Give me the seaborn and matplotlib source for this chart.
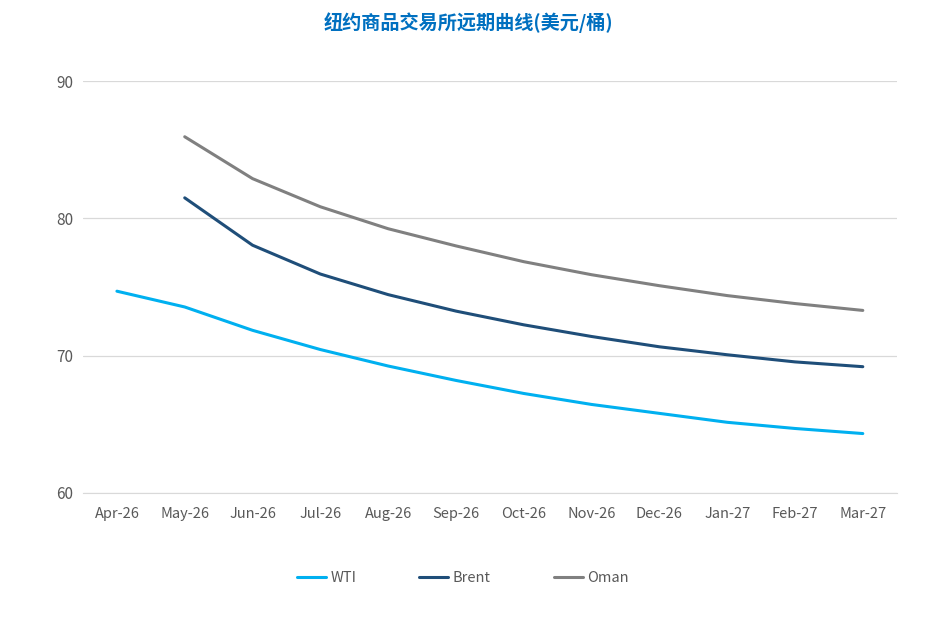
import numpy as np
import pandas as pd
import matplotlib
matplotlib.use('Agg')
import matplotlib.pyplot as plt
import seaborn as sns

# datos
months = ['Apr-26', 'May-26', 'Jun-26', 'Jul-26', 'Aug-26', 'Sep-26',
          'Oct-26', 'Nov-26', 'Dec-26', 'Jan-27', 'Feb-27', 'Mar-27']
wti = [74.7, 73.55, 71.85, 70.45, 69.25, 68.2, 67.25, 66.45, 65.8, 65.15, 64.7, 64.33]
brent = [np.nan, 81.5, 78.05, 75.95, 74.45, 73.25, 72.25, 71.4, 70.65, 70.07, 69.55, 69.2]
oman = [np.nan, 85.95, 82.9, 80.85, 79.25, 78.0, 76.85, 75.9, 75.1, 74.38, 73.8, 73.3]
series_names = ['WTI', 'Brent', 'Oman']
colors = ['#00B0F0', '#1F4E79', '#808080']

df = pd.DataFrame({'month': months, 'WTI': wti, 'Brent': brent, 'Oman': oman})
df['idx'] = range(len(months))
long_df = df.melt(id_vars=['month', 'idx'], value_vars=series_names,
                  var_name='series', value_name='price').dropna()

sns.set_style('white')
plt.rcParams['font.family'] = ['Noto Sans CJK SC', 'DejaVu Sans']

fig = plt.figure(figsize=(9.37, 6.34), dpi=100)
ax = fig.add_axes([0.0886, 0.2224, 0.8684, 0.6496])

sns.lineplot(data=long_df, x='idx', y='price', hue='series', hue_order=series_names,
             palette=colors, linewidth=2.2, ax=ax, legend=True)

ax.set_xlim(-0.5, len(months) - 0.5)
ax.set_ylim(60, 90)
ax.set_yticks([60, 70, 80, 90])
ax.set_xticks(range(len(months)))
ax.set_xticklabels(months)
ax.set_xlabel('')
ax.set_ylabel('')
ax.grid(axis='y', color='#D9D9D9', linewidth=0.9)
ax.set_axisbelow(True)
for s in ['top', 'right', 'left']:
    ax.spines[s].set_visible(False)
ax.spines['bottom'].set_color('#D9D9D9')
ax.tick_params(axis='both', length=0, colors='#595959', labelsize=10.5)
ax.tick_params(axis='y', pad=7, labelsize=11)
ax.tick_params(axis='x', pad=10)

handles, labels = ax.get_legend_handles_labels()
ax.get_legend().remove()
leg = fig.legend(handles, labels, loc='center', bbox_to_anchor=(0.494, 0.088), ncol=3,
                 frameon=False, columnspacing=4.3, handlelength=2.0, handletextpad=0.3,
                 fontsize=10.5)
for t in leg.get_texts():
    t.set_color('#595959')

fig.text(0.5, 0.965, '纽约商品交易所远期曲线(美元/桶)', ha='center', va='center',
         fontsize=13.8, fontweight='bold', color='#0070C0')

fig.savefig('out.png', dpi=100)
